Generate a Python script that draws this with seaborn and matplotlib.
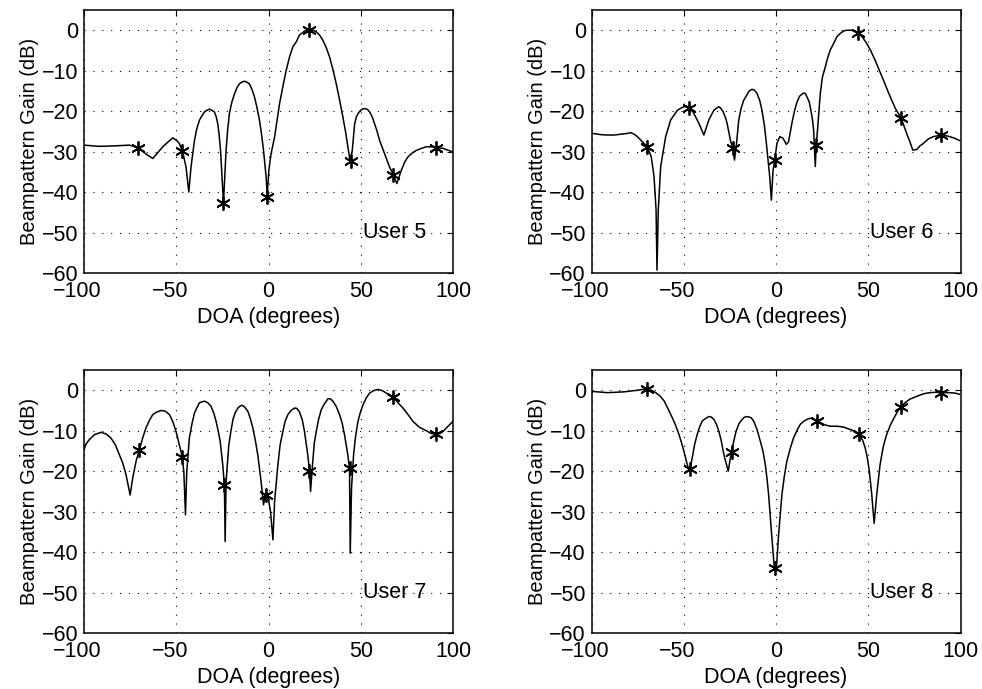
import numpy as np
import pandas as pd
import matplotlib
matplotlib.use("Agg")
import matplotlib.pyplot as plt
import matplotlib.transforms as mtransforms
import seaborn as sns

# ---------------- data ----------------
# User 5
u5_doa = [-100, -91.7, -84.4, -75.4, -70.9, -66.4, -62.7, -57.3, -51.9, -48.3, -46.5, -44.7, -43.2, -42.0,
          -40.1, -37.4, -34.7, -32.0, -29.3, -27.5, -26.0, -24.8, -24.4, -23.0, -21.2, -18.4, -15.7, -13.0,
          -10.3, -7.6, -4.9, -2.7, -1.3, -0.7, 0.2, 1.4, 3.3, 6.0, 9.6, 13.2, 16.8, 21.9, 25.9, 29.5, 33.1,
          36.7, 40.3, 43.0, 44.3, 45.4, 46.7, 48.5, 51.2, 52.6, 54.8, 57.5, 60.2, 62.9, 65.6, 67.5, 69.6,
          72.0, 75.6, 80.1, 85.5, 90.6, 94.6, 100]
u5_gain = [-28.4, -28.7, -28.6, -28.4, -29.0, -30.6, -31.7, -28.8, -26.6, -28.0, -30.1, -33.8, -40.0, -33.8,
           -27.2, -22.2, -20.2, -19.5, -20.2, -23.1, -29.7, -39.5, -42.7, -29.7, -20.6, -15.7, -13.2, -12.6,
           -13.3, -16.5, -22.2, -29.7, -36.2, -40.8, -34.6, -30.5, -26.4, -18.1, -9.9, -4.1, -1.2, 0.0, -0.4,
           -2.5, -6.6, -13.2, -21.4, -28.8, -32.5, -29.7, -23.1, -20.6, -19.4, -19.4, -20.2, -23.1, -27.2,
           -30.5, -33.8, -35.6, -37.9, -34.6, -31.3, -29.7, -28.8, -29.0, -29.2, -30.1]
u5_more_doa = [-53.7, -49.7, -38.9, -36.0, -33.5, -30.6, -28.4, -26.8, -22.1, -19.9, -17.2, -14.3, -11.8,
               -8.9, -6.3, -3.8, 7.8, 11.4, 15.0, 19.5, 24.1, 27.7, 31.3, 34.9, 38.5, 41.8, 47.6, 49.9,
               53.7, 56.1, 58.8, 73.8, 78.0, 82.9, 88.3]
u5_more_gain = [-27.3, -27.3, -24.4, -21.1, -19.8, -19.8, -21.3, -25.6, -24.4, -17.8, -14.3, -12.8, -12.8,
                -14.7, -19.0, -25.6, -13.9, -6.6, -2.9, -0.2, 0.0, -1.2, -4.3, -9.7, -17.2, -25.2, -21.5,
                -19.8, -19.6, -21.3, -24.9, -32.6, -30.3, -29.2, -28.8]
u5_star_doa = [-70.9, -46.9, -24.4, -0.7, 21.9, 44.9, 67.6, 90.6]
u5_star_gain = [-29.0, -29.9, -42.7, -41.2, 0.0, -32.2, -35.7, -29.1]

# User 6
u6_doa = [-99.5, -91.4, -84.1, -78.7, -75.1, -72.4, -69.7, -67.6, -66.1, -65.0, -64.5, -63.8, -62.5, -59.8,
          -57.1, -53.5, -49.9, -47.2, -44.5, -41.8, -39.1, -36.4, -33.7, -31.0, -28.6, -26.5, -24.7, -23.2,
          -22.5, -21.4, -20.2, -17.5, -14.8, -13.0, -10.3, -7.6, -5.2, -3.4, -2.5, -1.6, -0.7, 0.5, 2.0, 3.8,
          5.6, 6.8, 8.6, 11.4, 14.6, 16.8, 18.9, 20.4, 21.3, 21.8, 22.5, 24.0, 26.7, 29.4, 33.0, 36.6, 41.1,
          44.7, 49.2, 53.7, 58.2, 62.7, 67.7, 70.8, 74.1, 76.2, 79.8, 85.2, 89.7, 94.2, 99.6]
u6_gain = [-25.5, -25.9, -25.7, -25.3, -26.3, -27.6, -28.8, -31.3, -36.2, -44.4, -59.3, -44.4, -33.7, -26.3,
           -22.2, -19.8, -18.9, -18.9, -20.6, -23.0, -25.9, -22.2, -19.8, -18.9, -20.2, -23.0, -27.2, -29.6,
           -32.1, -28.0, -22.2, -17.3, -15.2, -14.6, -15.6, -19.8, -28.0, -36.2, -42.0, -34.6, -32.1, -28.0,
           -26.3, -26.7, -28.2, -27.6, -23.0, -17.7, -15.6, -16.5, -19.8, -24.7, -33.7, -28.4, -24.7, -15.6,
           -9.1, -4.9, -1.6, -0.2, 0.0, -0.7, -3.3, -7.4, -12.3, -17.3, -21.6, -25.5, -29.6, -29.5, -28.0,
           -26.3, -25.9, -26.3, -27.3]
u6_more_doa = [-95.0, -87.7, -80.5, -76.9, -55.3, -51.7, -48.5, -45.8, -35.1, -32.4, -29.9, -27.4, -18.9,
               -16.2, -13.9, -11.7, -8.8, -6.3, 10.1, 12.8, 15.9, 18.0, 19.8, 25.2, 27.9, 31.2, 34.8, 38.4,
               42.9, 47.0, 51.4, 56.0, 60.4, 65.0, 69.4, 72.6, 78.0, 82.5, 92.4, 96.9]
u6_more_gain = [-25.8, -25.9, -25.5, -25.7, -21.0, -19.3, -18.8, -19.6, -21.0, -19.3, -19.3, -21.6, -19.3,
                -16.3, -14.8, -14.8, -17.4, -23.5, -19.8, -16.3, -15.6, -17.7, -22.2, -11.5, -7.0, -3.3,
                -0.8, 0.0, -0.2, -1.8, -5.1, -9.9, -14.8, -19.6, -23.7, -27.6, -28.6, -26.9, -26.1, -26.7]
u6_star_doa = [-69.7, -47.2, -23.2, -0.7, 21.8, 44.7, 67.7, 89.7]
u6_star_gain = [-28.8, -19.1, -29.2, -32.1, -28.4, -0.7, -21.6, -25.9]

# User 7
u7_doa = [-100, -97.1, -90.8, -85.4, -80.8, -77.2, -75.0, -73.6, -71.8, -70.0, -66.4, -62.7, -58.2, -53.7,
          -50.1, -47.9, -46.8, -45.9, -45.0, -44.3, -42.9, -40.1, -37.4, -34.7, -31.1, -28.4, -26.2, -24.8,
          -23.9, -23.5, -23.0, -21.5, -19.3, -16.6, -14.5, -11.2, -8.5, -5.8, -4.0, -2.7, -1.8, -0.4, 1.1,
          2.4, 3.3, 5.1, 7.8, 10.5, 14.1, 16.8, 19.5, 21.3, 22.2, 22.8, 23.7, 25.9, 28.6, 32.2, 34.9, 38.5,
          41.2, 43.0, 43.9, 44.3, 45.0, 46.1, 48.5, 51.2, 54.8, 59.3, 63.8, 67.5, 72.9, 78.3, 85.5, 90.6,
          94.6, 100]
u7_gain = [-14.7, -12.2, -10.4, -11.8, -16.0, -20.9, -25.9, -21.7, -17.6, -14.7, -9.3, -6.0, -5.0, -6.0,
           -10.2, -14.3, -16.4, -20.1, -30.8, -20.1, -11.8, -5.6, -3.1, -2.7, -4.0, -7.7, -12.6, -18.4,
           -23.4, -37.4, -22.6, -13.5, -7.3, -4.4, -3.7, -5.2, -9.3, -16.0, -22.6, -28.3, -26.3, -25.9,
           -30.0, -37.0, -27.5, -18.4, -10.2, -6.0, -4.4, -5.4, -10.2, -16.0, -19.9, -25.0, -19.3, -10.2,
           -4.8, -2.1, -2.7, -6.0, -11.0, -16.0, -19.3, -40.3, -24.2, -16.0, -7.7, -3.6, -0.7, 0.2, -0.7,
           -1.7, -4.4, -7.7, -10.0, -10.8, -10.2, -7.7]
u7_more_doa = [-98.9, -94.4, -88.1, -83.0, -79.0, -76.1, -68.2, -64.6, -60.6, -55.9, -51.9, -49.0, -41.4,
               -38.9, -36.2, -32.9, -29.7, -27.3, -25.5, -20.4, -18.1, -15.6, -13.0, -9.9, -7.1, -4.9, 6.3,
               9.0, 12.3, 15.4, 18.3, 20.4, 24.8, 27.1, 30.0, 33.5, 36.7, 39.9, 42.1, 47.2, 49.7, 53.0, 57.0,
               61.7, 65.6, 70.2, 75.6, 81.9, 88.2, 92.8, 97.3]
u7_more_gain = [-13.3, -11.0, -10.8, -13.5, -18.0, -23.4, -11.8, -7.5, -5.4, -5.2, -7.7, -12.2, -8.1, -4.4,
                -2.9, -3.1, -5.6, -10.0, -15.5, -10.2, -5.6, -4.0, -4.1, -6.9, -12.5, -19.3, -13.5, -7.7,
                -5.0, -4.5, -7.3, -13.1, -13.1, -7.3, -3.6, -2.1, -4.0, -8.1, -13.5, -11.4, -5.6, -1.9,
                -0.1, -0.1, -1.1, -3.1, -6.0, -9.2, -10.7, -10.7, -8.9]
u7_star_doa = [-70.0, -46.8, -23.9, -1.3, 22.2, 44.3, 67.5, 90.6]
u7_star_gain = [-14.7, -16.4, -23.4, -25.9, -19.9, -19.3, -1.7, -10.8]

# User 8
u8_doa = [-99.5, -91.4, -82.3, -75.1, -69.7, -65.2, -60.7, -56.2, -52.6, -49.9, -48.1, -46.8, -45.4, -42.7,
          -40.0, -36.4, -33.7, -31.0, -28.6, -26.8, -25.9, -24.7, -22.9, -20.2, -17.5, -14.8, -12.1, -8.5,
          -5.8, -4.0, -2.2, -0.9, 0.2, 1.4, 3.2, 5.9, 9.5, 13.2, 17.7, 22.2, 26.7, 33.0, 40.2, 45.2, 48.3,
          50.6, 51.9, 53.2, 54.6, 56.4, 60.0, 64.5, 67.7, 72.6, 78.0, 83.4, 89.7, 94.2, 99.6]
u8_gain = [-0.3, -0.6, -0.4, 0.0, 0.2, -0.6, -2.6, -6.8, -10.9, -15.1, -18.4, -20.0, -16.7, -10.9, -7.6,
           -6.5, -7.2, -10.1, -15.1, -18.4, -20.0, -16.7, -12.6, -8.4, -6.8, -6.6, -7.6, -12.6, -18.4, -25.8,
           -36.6, -44.0, -44.0, -35.8, -25.8, -17.5, -11.8, -8.4, -7.0, -7.6, -8.6, -8.9, -9.7, -10.9, -14.2,
           -20.0, -25.8, -32.9, -25.8, -18.4, -10.9, -6.4, -4.1, -2.2, -1.2, -0.6, -0.6, -0.6, -1.0]
u8_more_doa = [-78.7, -72.4, -67.6, -62.9, -58.6, -54.4, -51.2, -44.1, -41.4, -38.2, -35.1, -32.3, -29.7,
               -27.7, -21.6, -18.9, -16.2, -13.5, -10.3, -7.0, -4.9, -3.1, 2.3, 4.5, 7.7, 11.4, 15.3, 19.8,
               29.4, 36.6, 42.9, 47.0, 49.5, 58.2, 62.2, 65.8, 69.9, 75.3, 80.7, 86.7, 96.9]
u8_more_gain = [-0.2, 0.2, 0.0, -1.4, -4.5, -8.7, -13.0, -13.4, -9.1, -7.0, -6.6, -8.4, -12.4, -16.9, -10.1,
                -7.5, -6.5, -6.8, -9.7, -15.2, -21.7, -31.2, -30.8, -21.3, -14.4, -9.9, -7.6, -6.95, -8.9,
                -9.1, -10.1, -12.4, -16.7, -13.8, -8.4, -5.3, -3.1, -1.7, -0.8, -0.5, -0.7]
u8_star_doa = [-69.7, -46.7, -23.8, -0.7, 22.2, 45.2, 67.7, 89.7]
u8_star_gain = [0.2, -19.5, -15.2, -44.0, -7.6, -10.9, -4.1, -0.6]

users = ["User 5", "User 6", "User 7", "User 8"]
x_ticks = [-100, -50, 0, 50, 100]
y_ticks = [-60, -50, -40, -30, -20, -10, 0]
x_label = "DOA (degrees)"
y_label = "Beampattern Gain (dB)"

curves = [(u5_doa + u5_more_doa, u5_gain + u5_more_gain),
          (u6_doa + u6_more_doa, u6_gain + u6_more_gain),
          (u7_doa + u7_more_doa, u7_gain + u7_more_gain),
          (u8_doa + u8_more_doa, u8_gain + u8_more_gain)]
stars = [(u5_star_doa, u5_star_gain), (u6_star_doa, u6_star_gain),
         (u7_star_doa, u7_star_gain), (u8_star_doa, u8_star_gain)]

# ---------------- style ----------------
sns.set_theme(style="white")
plt.rcParams["font.family"] = ["Liberation Sans", "DejaVu Sans"]
plt.rcParams["axes.unicode_minus"] = True

fig = plt.figure(figsize=(9.82, 6.89), dpi=100)
W, H = 982.0, 689.0
positions = [
    (84 / W, 1 - 273 / H, 369 / W, 263 / H),
    (591.5 / W, 1 - 273 / H, 369 / W, 263 / H),
    (84 / W, 1 - 633 / H, 369 / W, 263 / H),
    (591.5 / W, 1 - 633 / H, 369 / W, 263 / H),
]

asterisk = (6, 2, 0)
minus_shift = mtransforms.ScaledTranslation(-6.5 / 100, 0, fig.dpi_scale_trans)

def fmt(v):
    return ("\u2212" + str(abs(v))) if v < 0 else str(v)

for i in range(4):
    ax = fig.add_axes(positions[i])
    d_line = pd.DataFrame({"doa": curves[i][0], "gain": curves[i][1]}).sort_values("doa")
    d_star = pd.DataFrame({"doa": stars[i][0], "gain": stars[i][1]})
    sns.lineplot(data=d_line, x="doa", y="gain", ax=ax, color="black", linewidth=1.1,
                 sort=False, estimator=None, zorder=3)
    sns.scatterplot(data=d_star, x="doa", y="gain", ax=ax, color="black", marker=asterisk,
                    s=90, linewidth=1.3, zorder=4)
    ax.set_xlim(-100, 100)
    ax.set_ylim(-60, 5)
    ax.set_xticks(x_ticks)
    ax.set_xticklabels([fmt(v) for v in x_ticks])
    ax.set_yticks(y_ticks)
    ax.set_yticklabels([fmt(v) for v in y_ticks])
    ax.grid(True, color="black", linestyle=(0, (1, 7)), linewidth=0.8)
    ax.set_axisbelow(True)
    for sp in ax.spines.values():
        sp.set_visible(True)
        sp.set_color("black")
        sp.set_linewidth(1.1)
    ax.tick_params(axis="both", which="both", direction="in", length=4, width=0.8,
                   colors="black", top=True, right=True, labelsize=15.5)
    ax.tick_params(axis="x", pad=6)
    ax.tick_params(axis="y", pad=4)
    for lab, v in zip(ax.get_xticklabels(), x_ticks):
        if v < 0:
            lab.set_transform(lab.get_transform() + minus_shift)
    ax.set_xlabel(x_label, fontsize=15.5, labelpad=3, color="black")
    ax.set_ylabel(y_label, fontsize=14.5, labelpad=2, color="black")
    ax.text(51, -50, users[i], fontsize=15.5, ha="left", va="center", color="black", zorder=5)

fig.savefig("out.png", dpi=100)
